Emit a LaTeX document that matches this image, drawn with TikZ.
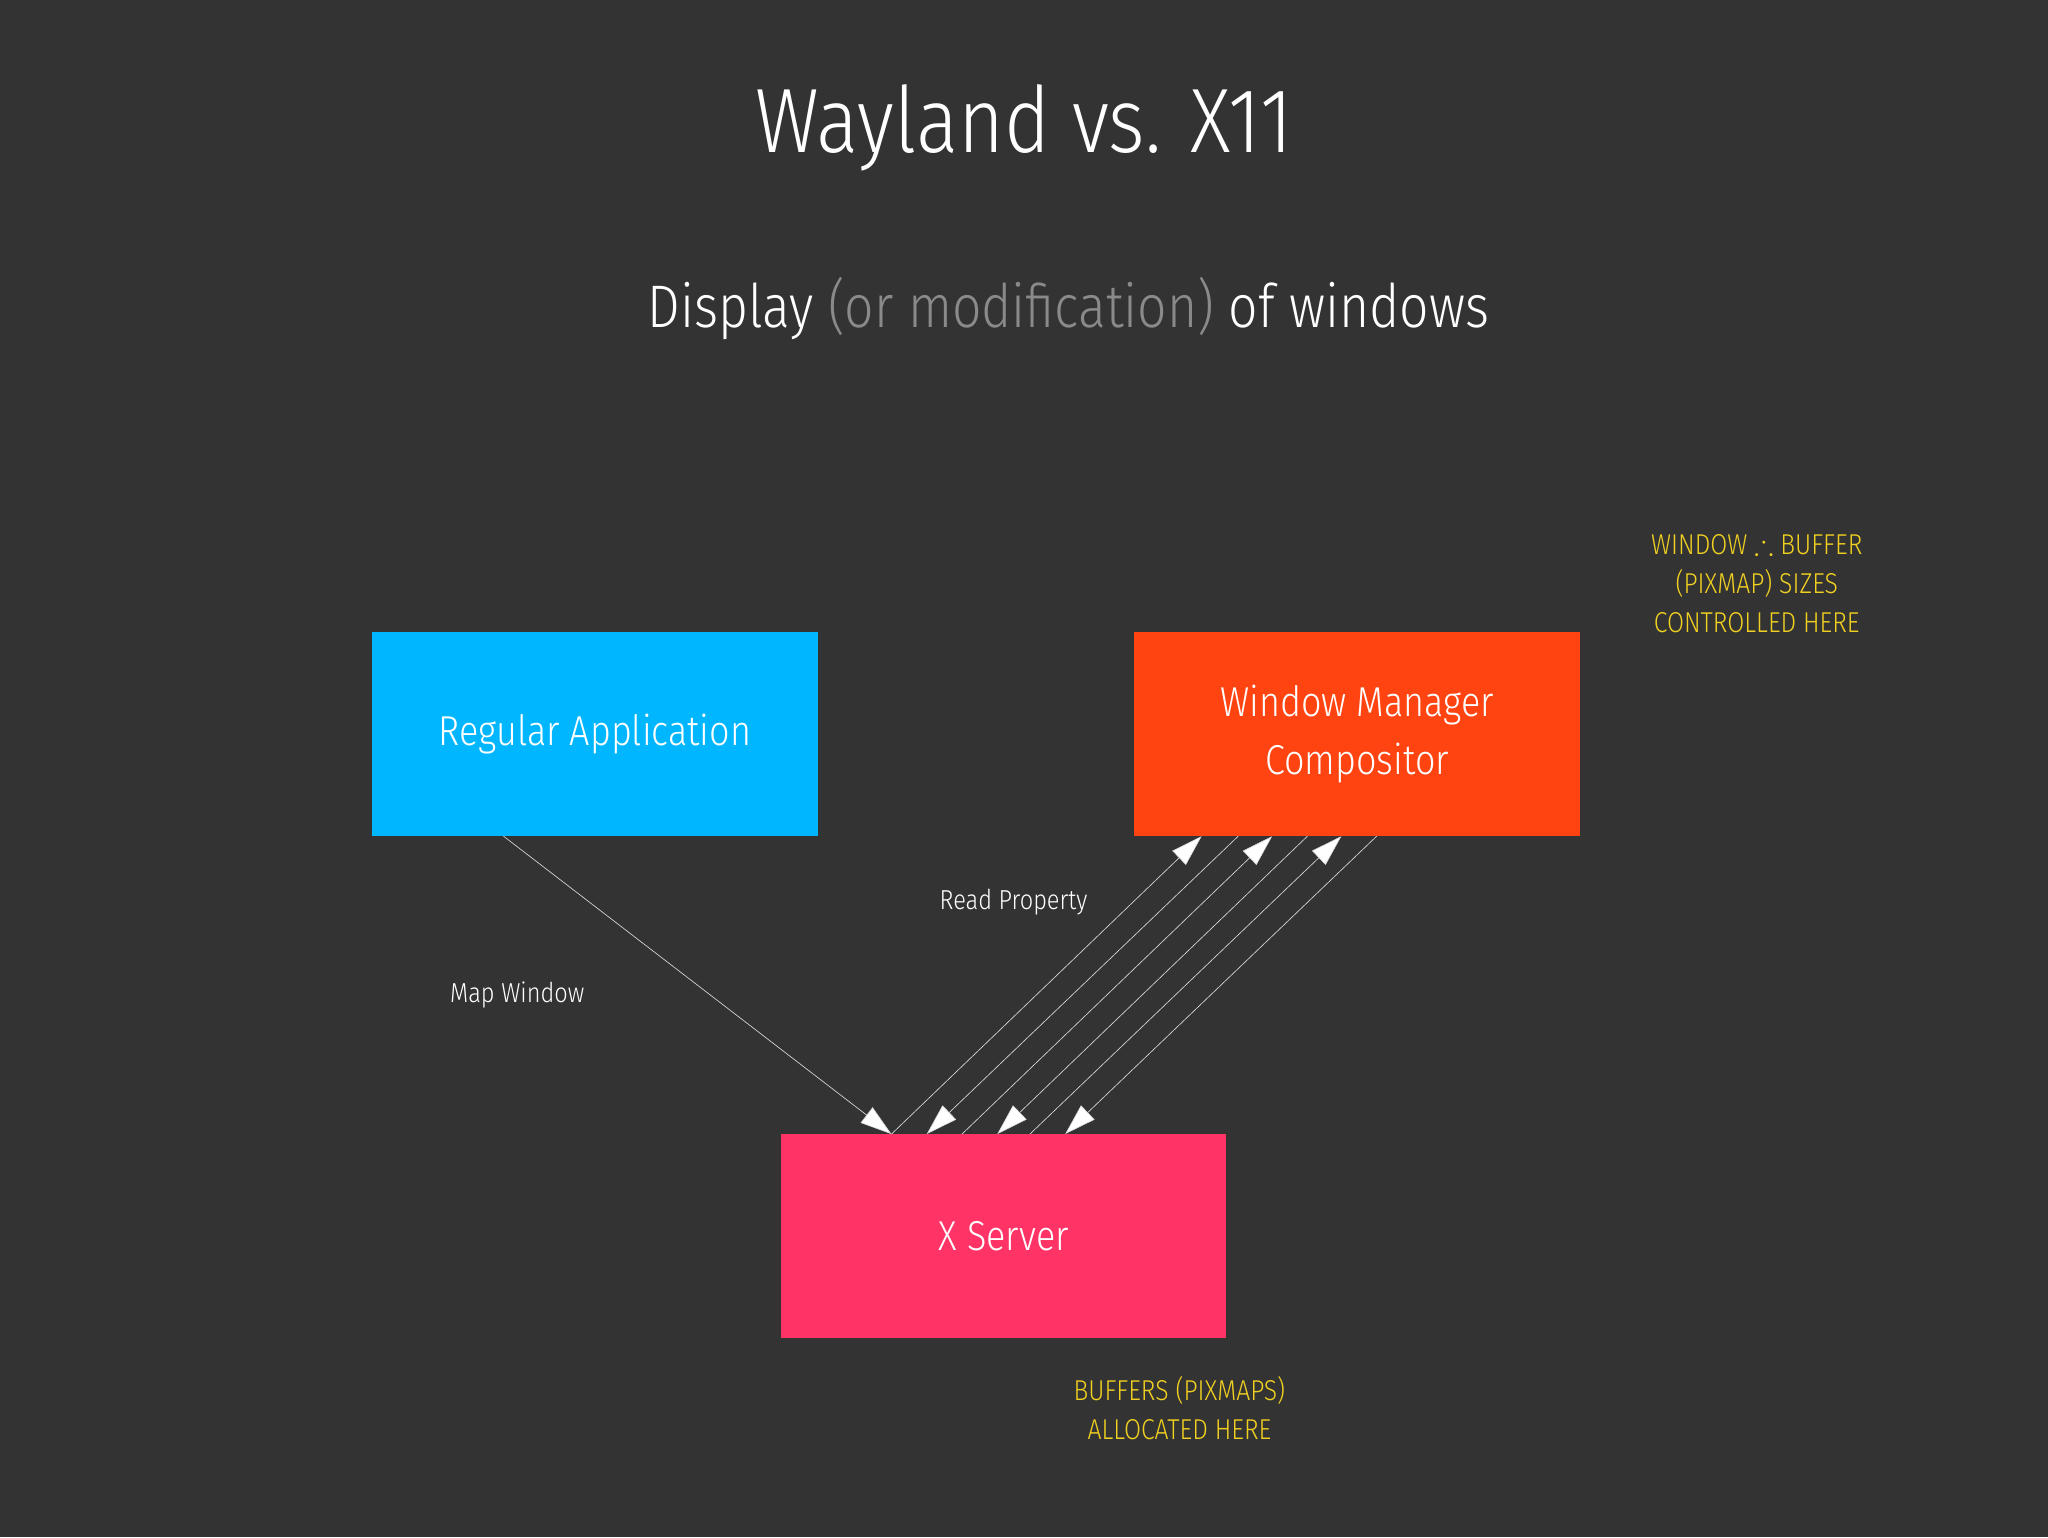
\documentclass[tikz,border=0pt]{standalone}
\usepackage{amssymb}
\usepackage{fontspec}
\setmainfont{Fira Sans}[UprightFont={* Light},FakeStretch=0.86]
\usetikzlibrary{arrows.meta}
\definecolor{bg}{HTML}{333334}
\definecolor{appblue}{HTML}{00B7FF}
\definecolor{wmorange}{HTML}{FF4411}
\definecolor{xpink}{HTML}{FF3366}
\definecolor{note}{HTML}{F0D020}
\definecolor{greytxt}{HTML}{8A8A8A}
\begin{document}
\begin{tikzpicture}[x=1pt,y=-1pt,
  box/.style={minimum width=341pt,minimum height=156pt,inner sep=0pt,text=white,font=\fontsize{32}{44}\selectfont,align=center},
  lbl/.style={text=white,font=\fontsize{21}{25}\selectfont},
  yel/.style={text=note,font=\fontsize{22}{30}\selectfont,align=center},
  conn/.style={draw=white!85!black,line width=0.5pt,-{Triangle[length=24pt,width=15pt,fill=white]}}]
\fill[bg] (0,0) rectangle (1568,1177);
\useasboundingbox (0,0) rectangle (1568,1177);
\node[text=white,font=\fontsize{70}{80}\selectfont] (title) at (784,98) {Wayland vs. X11};
\node[text=white,font=\fontsize{46}{56}\selectfont] (sub) at (818,236) {Display \textcolor{greytxt}{(or modification)} of windows};
\node[box,fill=appblue] (app) at (455.5,562) {Regular Application};
\node[box,fill=wmorange] (wm) at (1039,562) {Window Manager\\Compositor};
\node[box,fill=xpink] (xs) at (768.5,946.5) {X Server};
\node[lbl] (mw) at (396,762) {Map Window};
\node[lbl] (rp) at (776,691) {Read Property};
\node[yel] (n1) at (1345,447) {WINDOW $\therefore$ BUFFER\\(PIXMAP) SIZES\\CONTROLLED HERE};
\node[yel] (n2) at (903,1078) {BUFFERS (PIXMAPS)\\ALLOCATED HERE};
\draw[conn] ([xshift=-70pt]app.south) -- ([xshift=-86pt]xs.north);
\draw[conn] ([xshift=-86pt]xs.north) -- ([xshift=-119pt]wm.south);
\draw[conn] ([xshift=-91pt]wm.south) -- ([xshift=-59pt]xs.north);
\draw[conn] ([xshift=-32pt]xs.north) -- ([xshift=-65pt]wm.south);
\draw[conn] ([xshift=-38pt]wm.south) -- ([xshift=-5pt]xs.north);
\draw[conn] ([xshift=20pt]xs.north) -- ([xshift=-12pt]wm.south);
\draw[conn] ([xshift=15pt]wm.south) -- ([xshift=47pt]xs.north);
\end{tikzpicture}
\end{document}
